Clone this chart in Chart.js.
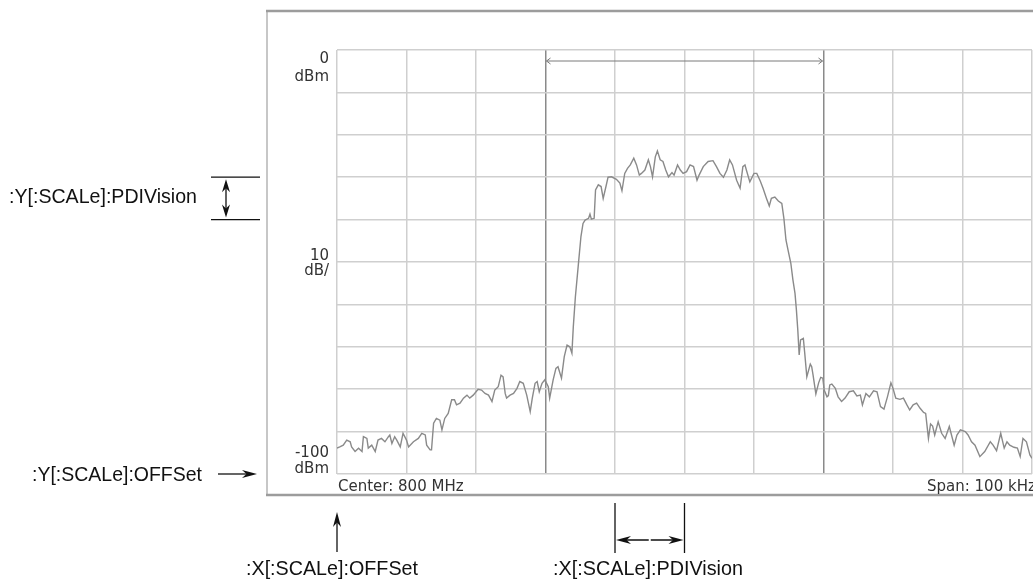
<!DOCTYPE html>
<html>
<head>
<meta charset="utf-8">
<script src="https://cdn.jsdelivr.net/npm/chart.js@4.4.0/dist/chart.umd.min.js"></script>
<style>
  html, body { margin: 0; padding: 0; background: #fff; }
  canvas { display: block; }
</style>
</head>
<body>
<canvas id="myChart" width="1033" height="583"></canvas>
<script>
// spectrum trace: offset from center (kHz) and level (dBm)
const freqKHz = [
  -50.0, -49.6, -49.1, -48.6, -48.1, -47.9, -47.4, -46.9, -46.4, -46.2,
  -45.7, -45.5, -45.0, -44.5, -44.1, -43.6, -43.1, -42.6, -42.4, -42.1,
  -41.7, -41.4, -40.9, -40.5, -40.0, -39.7, -39.0, -38.3, -37.8, -37.3,
  -37.1, -36.6, -36.4, -36.1, -35.7, -35.2, -34.9, -34.5, -34.0, -33.5,
  -33.1, -32.8, -32.3, -31.8, -31.3, -30.9, -30.4, -29.7, -29.2, -28.7,
  -28.2, -27.7, -27.3, -26.8, -26.4, -26.1, -25.8, -25.6, -25.1, -24.6,
  -24.1, -23.7, -23.2, -22.7, -22.2, -21.9, -21.5, -21.2, -20.9, -20.5,
  -20.1, -19.6, -19.4, -18.9, -18.5, -18.2, -17.7, -17.3, -16.9, -16.5,
  -16.2, -16.0, -15.7, -15.3, -14.9, -14.6, -14.3, -13.8, -13.6, -13.4,
  -13.0, -12.8, -12.4, -12.0, -11.7, -11.3, -11.0, -10.5, -9.8, -9.3,
  -9.0, -8.6, -8.2, -7.8, -7.3, -6.9, -6.5, -6.2, -5.7, -5.2,
  -4.9, -4.6, -4.2, -3.9, -3.5, -3.1, -2.7, -2.3, -1.8, -1.5,
  -1.0, -0.6, -0.2, 0.3, 0.8, 1.3, 1.8, 2.1, 2.7, 3.4,
  4.1, 4.6, 5.1, 5.6, 6.1, 6.5, 6.9, 7.5, 8.0, 8.4,
  8.7, 8.9, 9.4, 10.0, 10.4, 10.9, 11.3, 11.8, 12.2, 12.5,
  13.0, 13.5, 14.0, 14.3, 14.6, 14.9, 15.3, 15.6, 15.9, 16.1,
  16.3, 16.5, 16.7, 17.1, 17.3, 17.6, 18.1, 18.3, 18.5, 18.9,
  19.3, 19.6, 19.9, 20.1, 20.5, 20.7, 20.9, 21.2, 21.7, 22.1,
  22.6, 23.1, 23.7, 24.3, 24.8, 25.3, 25.6, 26.1, 26.6, 27.2,
  27.7, 28.2, 28.7, 29.2, 29.7, 30.0, 30.4, 31.0, 31.5, 32.0,
  32.4, 32.9, 33.4, 33.9, 34.4, 34.7, 35.1, 35.4, 35.7, 36.0,
  36.5, 37.0, 37.5, 38.1, 38.8, 39.2, 39.7, 40.4, 40.8, 41.3,
  41.8, 42.5, 43.2, 44.0, 44.4, 44.9, 45.5, 46.0, 46.4, 46.8,
  47.4, 47.9, 48.3, 48.7, 49.2, 49.7, 50.0
];
const levelDbm = [
  -93.9, -93.6, -93.2, -92.0, -92.4, -93.6, -94.7, -93.9, -94.7, -91.2,
  -91.6, -93.9, -93.2, -94.7, -92.0, -91.6, -92.4, -91.2, -90.8, -92.8,
  -91.2, -92.0, -93.6, -90.4, -92.0, -93.6, -92.4, -91.6, -90.4, -90.8,
  -93.2, -94.3, -94.3, -88.0, -86.9, -87.3, -89.6, -86.9, -85.7, -82.5,
  -82.5, -83.7, -83.3, -82.1, -81.4, -82.1, -81.4, -80.0, -80.2, -81.0,
  -81.4, -82.9, -80.2, -79.4, -76.7, -77.1, -81.0, -82.1, -81.4, -81.0,
  -79.8, -78.2, -78.6, -81.4, -85.3, -82.1, -78.6, -78.2, -80.6, -78.6,
  -77.8, -79.4, -82.1, -77.8, -75.1, -74.7, -77.4, -72.3, -69.6, -70.0,
  -71.5, -65.3, -58.2, -51.1, -44.0, -40.9, -40.1, -39.7, -38.7, -39.9,
  -39.7, -33.0, -31.8, -32.2, -35.0, -32.2, -30.0, -29.9, -30.5, -31.4,
  -33.2, -29.1, -27.9, -27.1, -25.5, -27.1, -29.5, -29.1, -28.3, -25.9,
  -27.5, -29.9, -25.2, -23.8, -25.9, -26.3, -28.3, -29.9, -28.9, -29.5,
  -27.1, -28.3, -29.1, -28.7, -27.1, -27.5, -30.7, -29.5, -27.5, -26.3,
  -26.1, -27.5, -29.1, -30.0, -28.3, -25.9, -27.1, -30.7, -32.6, -27.5,
  -27.1, -28.3, -31.1, -29.1, -29.1, -30.9, -32.6, -35.0, -36.8, -35.0,
  -34.7, -35.6, -36.2, -39.7, -44.8, -47.2, -50.3, -54.2, -57.4, -61.3,
  -66.0, -71.9, -68.4, -68.0, -71.5, -77.1, -74.1, -74.7, -76.7, -81.1,
  -78.5, -77.2, -77.4, -80.2, -81.8, -81.5, -79.0, -78.8, -79.8, -81.8,
  -82.9, -82.1, -80.6, -80.4, -81.6, -81.4, -83.7, -81.0, -81.8, -80.4,
  -80.6, -84.1, -84.7, -81.8, -78.5, -79.8, -82.1, -82.4, -82.1, -83.7,
  -84.9, -83.7, -83.3, -84.5, -85.5, -85.7, -91.6, -88.2, -88.7, -90.8,
  -87.7, -90.4, -91.6, -88.8, -93.2, -90.8, -89.6, -90.0, -90.8, -92.4,
  -93.2, -95.9, -94.7, -92.4, -93.2, -94.5, -90.4, -93.9, -92.4, -93.2,
  -93.7, -93.9, -95.9, -91.6, -92.4, -95.5, -96.3
];

// axis settings (10 divisions each way)
const xMin = -50, xMax = 50, xStep = 10;   // kHz from 800 MHz center
const yMin = -100, yMax = 0, yStep = 10;   // dBm
const markerKHz = [-20, 20];               // darker vertical lines + arrow between

const traceColor = '#8a8a8a';
const gridColor = '#cfcfcf';
const markerColor = '#8a8a8a';
const instFont = '15px "DejaVu Sans"';
const noteFont = '21px "Liberation Sans", Arial, sans-serif';

function arrowHead(ctx, x, y, dir, len, half) {
  // filled triangle, dir = angle (radians) the arrow points at
  ctx.save();
  ctx.translate(x, y);
  ctx.rotate(dir);
  ctx.beginPath();
  ctx.moveTo(0, 0);
  ctx.lineTo(-len, -half);
  ctx.lineTo(-len * 0.7, 0);
  ctx.lineTo(-len, half);
  ctx.closePath();
  ctx.fill();
  ctx.restore();
}

const decorPlugin = {
  id: 'decor',
  beforeDraw(chart) {
    const ctx = chart.ctx;
    const a = chart.chartArea;
    ctx.save();
    ctx.fillStyle = '#fff';
    ctx.fillRect(0, 0, chart.width, chart.height);
    // instrument frame
    const fl = a.left - 70, ft = a.top - 39, fb = a.bottom + 21;
    ctx.strokeStyle = '#b4b4b4';
    ctx.lineWidth = 1.5;
    ctx.beginPath();
    ctx.moveTo(fl, ft); ctx.lineTo(fl, fb);
    ctx.stroke();
    ctx.strokeStyle = '#9c9c9c';
    ctx.lineWidth = 2.5;
    ctx.beginPath();
    ctx.moveTo(fl - 1, ft); ctx.lineTo(chart.width + 2, ft);
    ctx.moveTo(fl - 1, fb); ctx.lineTo(chart.width + 2, fb);
    ctx.stroke();
    ctx.restore();
  },
  afterDraw(chart) {
    const ctx = chart.ctx;
    const a = chart.chartArea;
    const xs = chart.scales.x, ys = chart.scales.y;
    ctx.save();

    // arrow between the two markers
    const m0 = xs.getPixelForValue(markerKHz[0]);
    const m1 = xs.getPixelForValue(markerKHz[1]);
    const ay = a.top + 11;
    ctx.strokeStyle = '#7a7a7a';
    ctx.lineWidth = 1;
    ctx.beginPath();
    ctx.moveTo(m0 + 1, ay); ctx.lineTo(m1 - 1, ay);
    ctx.moveTo(m0 + 5, ay - 3); ctx.lineTo(m0 + 1, ay); ctx.lineTo(m0 + 5, ay + 3);
    ctx.moveTo(m1 - 5, ay - 3); ctx.lineTo(m1 - 1, ay); ctx.lineTo(m1 - 5, ay + 3);
    ctx.stroke();

    // instrument readouts
    ctx.fillStyle = '#333';
    ctx.font = instFont;
    ctx.textAlign = 'right';
    ctx.textBaseline = 'alphabetic';
    const lx = a.left - 8;
    const yTop = ys.getPixelForValue(yMax);
    const yMid = ys.getPixelForValue((yMax + yMin) / 2);
    const yBot = ys.getPixelForValue(yMin);
    ctx.fillText(String(yMax), lx, yTop + 13);
    ctx.fillText('dBm', lx, yTop + 31);
    ctx.fillText(String(yStep), lx, yMid - 2);
    ctx.fillText('dB/', lx, yMid + 13);
    ctx.fillText(String(yMin), lx, yBot - 17);
    ctx.fillText('dBm', lx, yBot - 1);
    ctx.textAlign = 'left';
    ctx.fillText('Center: 800 MHz', a.left + 1, a.bottom + 17);
    ctx.fillText('Span: 100 kHz', a.right - 105, a.bottom + 17);

    // annotations
    ctx.fillStyle = '#111';
    ctx.strokeStyle = '#111';
    ctx.font = noteFont;
    ctx.textBaseline = 'middle';
    ctx.lineWidth = 1.3;

    // Y PDIVision
    const p1 = ys.getPixelForValue(-30), p2 = ys.getPixelForValue(-40);
    ctx.textAlign = 'left';
    ctx.fillText(':Y[:SCALe]:PDIVision', 9, (p1 + p2) / 2 - 1, 188);
    ctx.beginPath();
    ctx.moveTo(211, p1); ctx.lineTo(260, p1);
    ctx.moveTo(211, p2); ctx.lineTo(260, p2);
    ctx.moveTo(226, p1 + 6); ctx.lineTo(226, p2 - 6);
    ctx.stroke();
    arrowHead(ctx, 226, p1 + 2, -Math.PI / 2, 13, 4);
    arrowHead(ctx, 226, p2 - 2, Math.PI / 2, 13, 4);

    // Y OFFSet
    ctx.fillText(':Y[:SCALe]:OFFSet', 32, yBot + 1, 170);
    ctx.beginPath();
    ctx.moveTo(218, yBot); ctx.lineTo(250, yBot);
    ctx.stroke();
    arrowHead(ctx, 257, yBot, 0, 15, 4);

    // X OFFSet
    const ox = a.left;
    ctx.beginPath();
    ctx.moveTo(ox, 552); ctx.lineTo(ox, 520);
    ctx.stroke();
    arrowHead(ctx, ox, 512, -Math.PI / 2, 15, 4);
    ctx.fillText(':X[:SCALe]:OFFSet', 246, 569, 172);

    // X PDIVision
    const q1 = xs.getPixelForValue(-10), q2 = xs.getPixelForValue(0);
    ctx.beginPath();
    ctx.moveTo(q1, 503); ctx.lineTo(q1, 553);
    ctx.moveTo(q2, 503); ctx.lineTo(q2, 553);
    ctx.moveTo(q1 + 6, 540); ctx.lineTo(q2 - 6, 540);
    ctx.stroke();
    ctx.fillStyle = '#fff';
    ctx.fillRect((q1 + q2) / 2 - 1, 538, 2, 4);
    ctx.fillStyle = '#111';
    arrowHead(ctx, q1 + 1, 540, Math.PI, 15, 4);
    arrowHead(ctx, q2 - 1, 540, 0, 15, 4);
    ctx.fillText(':X[:SCALe]:PDIVision', 553, 569, 190);

    ctx.restore();
  }
};

function createChart() {
  const ctx = document.getElementById('myChart');
  const points = freqKHz.map((f, i) => ({ x: f, y: levelDbm[i] }));
  new Chart(ctx, {
    type: 'line',
    data: {
      datasets: [{
        label: 'Trace',
        data: points,
        borderColor: traceColor,
        borderWidth: 1.4,
        pointRadius: 0,
        tension: 0,
        fill: false
      }]
    },
    options: {
      responsive: false,
      animation: false,
      devicePixelRatio: 1,
      layout: { padding: { left: 337, right: 1, top: 50, bottom: 109 } },
      scales: {
        x: {
          type: 'linear',
          min: xMin, max: xMax,
          ticks: { display: false, stepSize: xStep },
          border: { display: false },
          grid: {
            drawTicks: false,
            lineWidth: 1.5,
            color: c => markerKHz.includes(c.tick.value) ? markerColor : gridColor
          }
        },
        y: {
          min: yMin, max: yMax,
          ticks: { display: false, stepSize: yStep },
          border: { display: false },
          grid: { drawTicks: false, lineWidth: 1.5, color: gridColor }
        }
      },
      plugins: {
        legend: { display: false },
        tooltip: { enabled: false },
        title: { display: false }
      }
    },
    plugins: [decorPlugin]
  });
}

createChart();
</script>
</body>
</html>
